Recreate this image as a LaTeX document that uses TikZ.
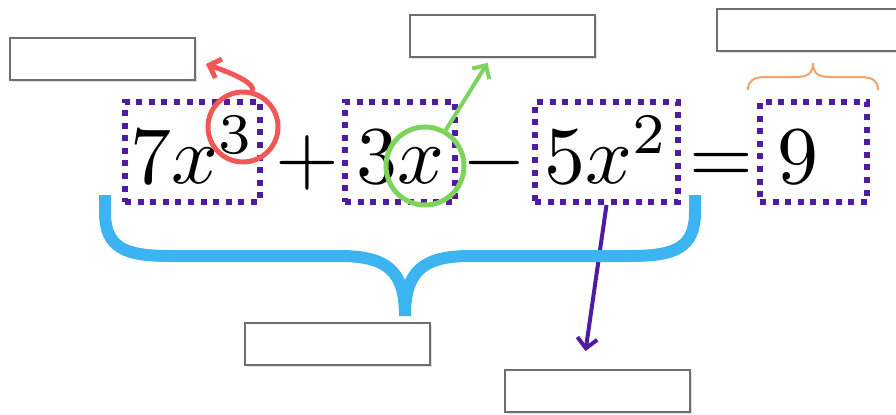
\documentclass[tikz,border=0pt]{standalone}
\usepackage{graphicx}
\usetikzlibrary{arrows.meta,calc,shadows}

\definecolor{termpurple}{RGB}{78,28,160}
\definecolor{ringred}{RGB}{240,88,88}
\definecolor{ringgreen}{RGB}{125,211,92}
\definecolor{braceblue}{RGB}{61,180,242}
\definecolor{braceorange}{RGB}{244,163,102}
\definecolor{boxgray}{RGB}{110,110,110}

\newcommand{\eqbig}[1]{\scalebox{4.1}{$#1$}}

\tikzset{
	term/.style={draw=termpurple, line width=3pt, dash pattern=on 3pt off 3.3pt, inner sep=0pt,
		minimum height=50pt, text height=33pt, text depth=2pt},
	op/.style={anchor=base, inner sep=0pt},
	blank/.style={draw=boxgray, line width=0.9pt, fill=white, minimum width=92.5pt, minimum height=21pt,
		drop shadow={opacity=0.25, shadow xshift=1pt, shadow yshift=-1pt}},
	ring/.style={circle, line width=2.5pt, inner sep=0pt},
	pointer/.style={line width=2pt, -{Straight Barb[length=5pt, width=10pt]}},
}

\begin{document}
\begin{tikzpicture}[x=0.5pt, y=-0.5pt]
			%%%%% START %%%%%
			\useasboundingbox (0, 0) rectangle (896, 414);
			
			% the equation
			\node[term, minimum width=67.5pt] (tA) at (192.5, 152) {\eqbig{7x^3}};
			\node[op] (plus) at (307, 183) {\eqbig{+}};
			\node[term, minimum width=55pt] (tB) at (400, 152) {\eqbig{3x}};
			\node[op] (minus) at (494, 183) {\eqbig{-}};
			\node[term, minimum width=71.5pt] (tC) at (606.5, 152) {\eqbig{5x^2}};
			\node[op] (equals) at (721, 183) {\eqbig{=}};
			\node[term, minimum width=53.5pt] (tD) at (813.5, 152) {\eqbig{9}\kern16pt};
			
			% empty answer boxes
			\node[blank] (lblA) at (102.5, 59) {};
			\node[blank] (lblB) at (502.5, 36) {};
			\node[blank] (lblC) at (809.5, 30) {};
			\node[blank] (lblD) at (337.5, 344) {};
			\node[blank] (lblE) at (597.5, 391) {};
			
			% rings
			\node[ring, draw=ringred, minimum size=35pt] (ringA) at (243, 127) {};
			\node[ring, draw=ringgreen, minimum size=39pt] (ringB) at (425, 166) {};
			
			\coordinate (tipA) at ($(lblA.east)+(10, 5)$);
			\coordinate (tipB) at ($(lblB.south)+(-15, 5)$);
			\coordinate (tipE) at ($(lblE.north)+(-12, -18)$);
			
			\draw[pointer, ringred, line width=2.5pt] (ringA.75) .. controls (254, 84) and (240, 76) .. (tipA);
			\draw[pointer, ringgreen] (ringB.60) -- (tipB);
			\draw[pointer, termpurple] (tC.south) -- (tipE);
			
			% braces
			\draw[braceblue, line width=6pt] (105, 195) -- (105, 212) .. controls (105, 248) and (125, 256) .. (170, 256)
				-- (340, 256) .. controls (388, 256) and (405, 272) .. (405, 316);
			\draw[braceblue, line width=6pt] (695, 195) -- (695, 212) .. controls (695, 248) and (675, 256) .. (630, 256)
				-- (470, 256) .. controls (422, 256) and (405, 272) .. (405, 316);
			\draw[braceorange, line width=1pt] (748, 90) .. controls (748, 81) and (753, 77) .. (766, 77)
				-- (796, 77) .. controls (808, 77) and (813, 73) .. (813, 63)
				.. controls (813, 73) and (818, 77) .. (830, 77) -- (860, 77)
				.. controls (873, 77) and (878, 81) .. (878, 90);
			
			%%%%% END %%%%%
\end{tikzpicture}
\end{document}
